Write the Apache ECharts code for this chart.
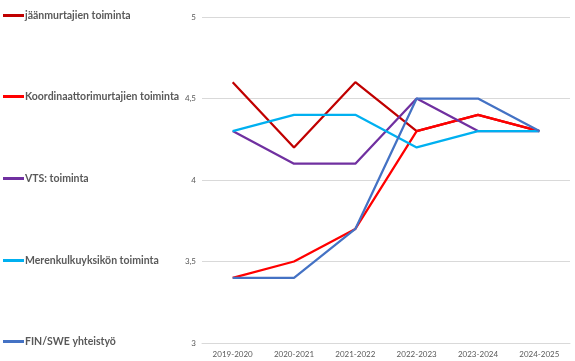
<!DOCTYPE html>
<html>
<head>
<meta charset="utf-8">
<script src="https://cdn.jsdelivr.net/npm/echarts@6/dist/echarts.min.js"></script>
<style>html,body{margin:0;padding:0;background:#fff}#c{width:575px;height:361px}</style>
</head>
<body>
<div id="c"></div>
<script>
const categories = ['2019-2020','2020-2021','2021-2022','2022-2023','2023-2024','2024-2025'];
const seriesNames = ['jäänmurtajien toiminta','Koordinaattorimurtajien toiminta','VTS: toiminta','Merenkulkuyksikön toiminta','FIN/SWE yhteistyö'];
const jaanmurtajat = [4.6, 4.2, 4.6, 4.3, 4.4, 4.3];
const koordinaattori = [3.4, 3.5, 3.7, 4.3, 4.4, 4.3];
const vts = [4.3, 4.1, 4.1, 4.5, 4.3, 4.3];
const merenkulku = [4.3, 4.4, 4.4, 4.2, 4.3, 4.3];
const finswe = [3.4, 3.4, 3.7, 4.5, 4.5, 4.3];
const colors = ['#C00000','#FF0000','#7030A0','#00B0F0','#4472C4'];
const values = [jaanmurtajat, koordinaattori, vts, merenkulku, finswe];
const legendY = [17, 98, 180, 262, 343];

const font = "Lato, 'Liberation Sans', sans-serif";
const chart = echarts.init(document.getElementById('c'), null, {renderer:'canvas'});
chart.setOption({
  animation: false,
  color: colors,
  grid: {left: 202, right: 5, top: 17, bottom: 18, containLabel: false},
  legend: seriesNames.map((n, i) => ({
    data: [n], orient: 'vertical', left: 3, top: legendY[i] - 7, padding: 0,
    icon: 'rect', itemWidth: 21, itemHeight: 3, itemGap: 0,
    textStyle: {fontFamily: font, fontSize: 10.5, fontWeight: 'bold', color: '#595959', padding: [0,0,0,-4]}
  })),
  xAxis: {
    type: 'category', data: categories, boundaryGap: true,
    axisLine: {lineStyle: {color: '#d9d9d9', width: 1}},
    axisTick: {show: false},
    axisLabel: {fontFamily: font, fontSize: 8, color: '#595959', margin: 7}
  },
  yAxis: {
    type: 'value', min: 3, max: 5, interval: 0.5,
    axisLine: {show: false}, axisTick: {show: false},
    axisLabel: {fontFamily: font, fontSize: 8, color: '#595959', margin: 6,
      formatter: v => String(v).replace('.', ',')},
    splitLine: {lineStyle: {color: '#d9d9d9', width: 1}}
  },
  series: seriesNames.map((n, i) => ({
    name: n, type: 'line', data: values[i], symbol: 'none',
    lineStyle: {width: 2.25, color: colors[i]}, itemStyle: {color: colors[i]}
  }))
});
</script>
</body>
</html>
